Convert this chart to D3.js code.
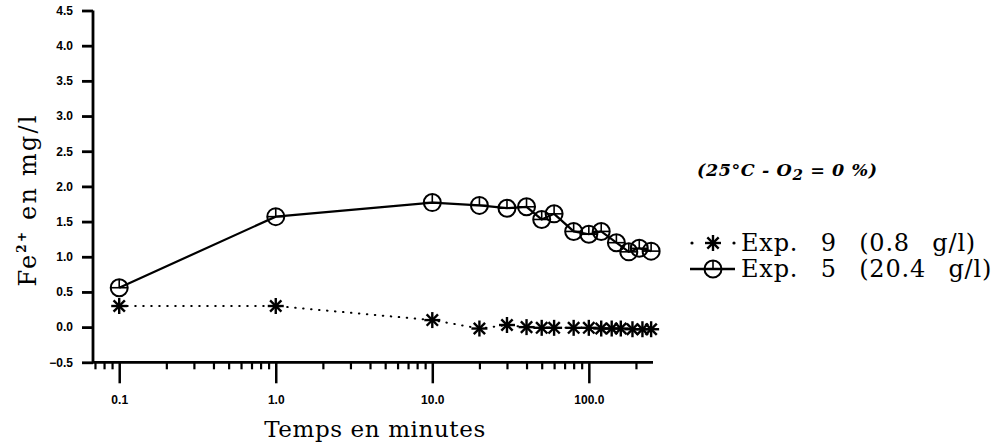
<!DOCTYPE html>
<html>
<head>
<meta charset="utf-8">
<script src="https://cdn.jsdelivr.net/npm/d3@7"></script>
<style>
  html, body { margin: 0; padding: 0; background: #fff; }
  svg { display: block; }
</style>
</head>
<body>
<svg id="chart" width="1000" height="445"></svg>
<script>
// Ferrous iron concentration over time, log time axis
const exp9Times  = [0.1, 1, 10, 20, 30, 40, 50, 60, 80, 100, 120, 140, 160, 190, 220, 250];
const exp9Values = [0.30, 0.30, 0.10, -0.02, 0.03, 0.00, -0.01, -0.01, -0.01, -0.01, -0.02, -0.02, -0.02, -0.03, -0.03, -0.03];

const exp5Times  = [0.1, 1, 10, 20, 30, 40, 50, 60, 80, 100, 120, 150, 180, 210, 250];
const exp5Values = [0.56, 1.57, 1.77, 1.73, 1.69, 1.71, 1.53, 1.61, 1.36, 1.32, 1.36, 1.20, 1.07, 1.12, 1.08];

const yTickValues = [-0.5, 0, 0.5, 1.0, 1.5, 2.0, 2.5, 3.0, 3.5, 4.0, 4.5];
const xMajorTicks = [0.1, 1, 10, 100];
const xMajorLabels = ["0.1", "1.0", "10.0", "100.0"];
const xMinorTicks = [0.07, 0.08, 0.09,
  0.2, 0.3, 0.4, 0.5, 0.6, 0.7, 0.8, 0.9,
  2, 3, 4, 5, 6, 7, 8, 9,
  20, 30, 40, 50, 60, 70, 80, 90, 200];

const legendLabels = ["Exp. 9 (0.8 g/l)", "Exp. 5 (20.4 g/l)"];

const svg = d3.select("#chart");

const x = d3.scaleLog().domain([0.068, 257]).range([93, 653]);
const y = d3.scaleLinear().domain([-0.5, 4.5]).range([362.3, 10.5]);

const ink = "#000";
const tickFont = "'Liberation Sans', Arial, sans-serif";
const serif = "'DejaVu Serif', 'Liberation Serif', serif";

// Y axis
const yAxis = svg.append("g")
  .attr("transform", `translate(${x.range()[0]},0)`)
  .call(d3.axisLeft(y).tickValues(yTickValues).tickSize(11).tickPadding(9)
    .tickFormat(d3.format(".1f")));
yAxis.select(".domain").attr("stroke", ink).attr("stroke-width", 2.8)
  .attr("d", `M0,${y(4.5)}V${y(-0.5)}`);
yAxis.selectAll(".tick line").attr("stroke", ink).attr("stroke-width", 2.8);
yAxis.selectAll(".tick text")
  .attr("font-family", tickFont).attr("font-weight", "bold")
  .attr("font-size", 12).attr("fill", ink);

// X axis: major ticks with labels
const xAxis = svg.append("g")
  .attr("transform", `translate(0,${y(-0.5)})`)
  .call(d3.axisBottom(x).tickValues(xMajorTicks).tickSize(21).tickPadding(12)
    .tickFormat((d, i) => xMajorLabels[i]));
xAxis.select(".domain").attr("stroke", ink).attr("stroke-width", 2.8)
  .attr("d", `M${x.range()[0]},0H${x.range()[1]}`);
xAxis.selectAll(".tick line").attr("stroke", ink).attr("stroke-width", 2.5);
xAxis.selectAll(".tick text")
  .attr("font-family", tickFont).attr("font-weight", "bold")
  .attr("font-size", 12).attr("fill", ink);

// X axis: minor ticks
const xMinor = svg.append("g")
  .attr("transform", `translate(0,${y(-0.5)})`)
  .call(d3.axisBottom(x).tickValues(xMinorTicks).tickSize(7).tickFormat(""));
xMinor.select(".domain").remove();
xMinor.selectAll(".tick line").attr("stroke", ink).attr("stroke-width", 2.2);

// Axis titles
svg.append("text")
  .attr("x", 375).attr("y", 437)
  .attr("text-anchor", "middle")
  .attr("font-family", serif).attr("font-size", 23).attr("fill", ink)
  .attr("letter-spacing", 0.6)
  .text("Temps en minutes");

const yTitle = svg.append("text")
  .attr("transform", "translate(36,200) rotate(-90)")
  .attr("text-anchor", "middle")
  .attr("font-family", serif).attr("font-size", 24).attr("fill", ink)
  .attr("letter-spacing", 2.2);
yTitle.append("tspan").text("Fe");
yTitle.append("tspan").attr("dy", -10).attr("font-size", 12).attr("font-weight", "bold").text("2+");
yTitle.append("tspan").attr("dy", 10).text(" en mg/l");

// Series lines
const line = d3.line().x(d => x(d[0])).y(d => y(d[1]));
const exp9 = exp9Times.map((t, i) => [t, exp9Values[i]]);
const exp5 = exp5Times.map((t, i) => [t, exp5Values[i]]);

svg.append("path").datum(exp9)
  .attr("d", line).attr("fill", "none").attr("stroke", ink)
  .attr("stroke-width", 2).attr("stroke-linecap", "round")
  .attr("stroke-dasharray", "0.5,7.5");

svg.append("path").datum(exp5)
  .attr("d", line).attr("fill", "none").attr("stroke", ink)
  .attr("stroke-width", 2.2);

// Marker drawing helpers
function drawStar(g, r) {
  for (let k = 0; k < 4; k++) {
    const a = k * Math.PI / 4;
    g.append("line")
      .attr("x1", -r * Math.cos(a)).attr("y1", -r * Math.sin(a))
      .attr("x2", r * Math.cos(a)).attr("y2", r * Math.sin(a))
      .attr("stroke", ink).attr("stroke-width", 2.4);
  }
}
function drawRing(g, r) {
  g.append("circle").attr("r", r).attr("fill", "none")
    .attr("stroke", ink).attr("stroke-width", 2);
  g.append("line").attr("x1", -r).attr("x2", r).attr("y1", 0).attr("y2", 0)
    .attr("stroke", ink).attr("stroke-width", 1.6);
  g.append("line").attr("x1", 0).attr("x2", 0).attr("y1", -r).attr("y2", 0)
    .attr("stroke", ink).attr("stroke-width", 1.6);
}

svg.append("g").selectAll("g").data(exp9).join("g")
  .attr("transform", d => `translate(${x(d[0])},${y(d[1])})`)
  .each(function () { drawStar(d3.select(this), 8); });

svg.append("g").selectAll("g").data(exp5).join("g")
  .attr("transform", d => `translate(${x(d[0])},${y(d[1])})`)
  .each(function () { drawRing(d3.select(this), 8.5); });

// Conditions note
const note = svg.append("text")
  .attr("x", 697).attr("y", 176)
  .attr("font-family", serif).attr("font-weight", "bold").attr("font-style", "italic")
  .attr("font-size", 17.5).attr("fill", ink).attr("letter-spacing", 0.6);
note.append("tspan").text("(25°C - O");
note.append("tspan").attr("dy", 4).attr("font-size", 15).text("2");
note.append("tspan").attr("dy", -4).text(" = 0 %)");

// Legend
const legend = svg.append("g");
const legY = [243, 269];
// Exp. 9 key
[692, 734].forEach(cx => legend.append("circle")
  .attr("cx", cx).attr("cy", legY[0]).attr("r", 1.6).attr("fill", ink));
drawStar(legend.append("g").attr("transform", `translate(713,${legY[0]})`), 8);
// Exp. 5 key
legend.append("line").attr("x1", 690).attr("x2", 735).attr("y1", legY[1]).attr("y2", legY[1])
  .attr("stroke", ink).attr("stroke-width", 2.6);
drawRing(legend.append("g").attr("transform", `translate(713,${legY[1]})`), 8.5);

legend.selectAll("text.leg").data(legendLabels).join("text")
  .attr("class", "leg")
  .attr("x", 741).attr("y", (d, i) => legY[i] + 8)
  .attr("font-family", serif).attr("font-size", 24).attr("fill", ink)
  .attr("letter-spacing", 0.8).attr("word-spacing", 14)
  .text(d => d);
</script>
</body>
</html>
